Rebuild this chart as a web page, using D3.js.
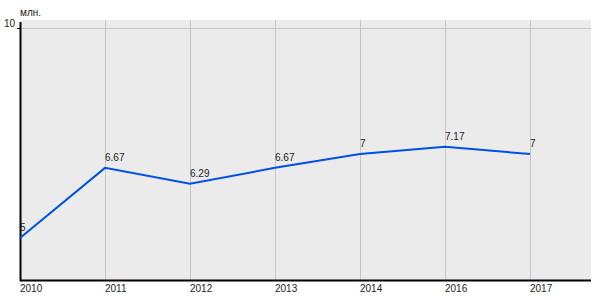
<!DOCTYPE html>
<html>
<head>
<meta charset="utf-8">
<script src="https://cdn.jsdelivr.net/npm/d3@7"></script>
<style>
  body { margin: 0; background: #fff; }
  text { font-family: "Liberation Sans", Arial, sans-serif; font-size: 10px; fill: #222; }
</style>
</head>
<body>
<div id="chart"></div>
<script>
// data
var years = ["2010", "2011", "2012", "2013", "2014", "2016", "2017"];
var values = [5, 6.67, 6.29, 6.67, 7, 7.17, 7];
var valueLabels = ["5", "6.67", "6.29", "6.67", "7", "7.17", "7"];
var yTicks = [10];
var unitLabel = "млн.";

var width = 600, height = 300;
var plotLeft = 20, plotRight = 591, plotTop = 20, plotBottom = 280;

var svg = d3.select("#chart").append("svg")
    .attr("width", width)
    .attr("height", height);

var x = d3.scalePoint()
    .domain(years)
    .range([plotLeft, 530]);

var y = d3.scaleLinear()
    .domain([4, 10])
    .range([plotBottom, 28]);

// plot background
svg.append("rect")
    .attr("x", plotLeft)
    .attr("y", plotTop)
    .attr("width", plotRight - plotLeft)
    .attr("height", plotBottom - plotTop)
    .attr("fill", "#ebebeb");

// vertical grid
svg.selectAll("line.vgrid")
    .data(years.slice(1))
    .enter().append("line")
    .attr("class", "vgrid")
    .attr("x1", d => x(d) + 0.5)
    .attr("x2", d => x(d) + 0.5)
    .attr("y1", plotTop)
    .attr("y2", plotBottom)
    .attr("stroke", "#c6c6c6")
    .attr("stroke-width", 1);

// horizontal grid
svg.selectAll("line.hgrid")
    .data(yTicks)
    .enter().append("line")
    .attr("class", "hgrid")
    .attr("x1", plotLeft)
    .attr("x2", plotRight)
    .attr("y1", d => Math.round(y(d)) + 0.5)
    .attr("y2", d => Math.round(y(d)) + 0.5)
    .attr("stroke", "#c6c6c6");

// y tick marks + labels
svg.selectAll("line.ytick")
    .data(yTicks)
    .enter().append("line")
    .attr("x1", plotLeft - 3)
    .attr("x2", plotLeft)
    .attr("y1", d => Math.round(y(d)) + 0.5)
    .attr("y2", d => Math.round(y(d)) + 0.5)
    .attr("stroke", "#000");

svg.selectAll("text.ylab")
    .data(yTicks)
    .enter().append("text")
    .attr("class", "ylab")
    .attr("x", plotLeft - 5)
    .attr("y", d => y(d) - 1)
    .attr("text-anchor", "end")
    .text(d => d);

svg.append("text")
    .attr("x", plotLeft)
    .attr("y", 16)
    .text(unitLabel);

// axes
svg.append("line")
    .attr("x1", plotLeft + 0.5).attr("x2", plotLeft + 0.5)
    .attr("y1", plotTop + 2).attr("y2", plotBottom + 1)
    .attr("stroke", "#000").attr("stroke-width", 2);

svg.append("line")
    .attr("x1", plotLeft).attr("x2", plotRight)
    .attr("y1", plotBottom + 0.5).attr("y2", plotBottom + 0.5)
    .attr("stroke", "#000").attr("stroke-width", 2);

// x labels
svg.selectAll("text.xlab")
    .data(years)
    .enter().append("text")
    .attr("class", "xlab")
    .attr("x", d => x(d))
    .attr("y", 292)
    .text(d => d);

// line
var line = d3.line()
    .x((d, i) => x(years[i]))
    .y(d => y(d));

svg.append("path")
    .datum(values)
    .attr("d", line)
    .attr("fill", "none")
    .attr("stroke", "#0050e6")
    .attr("stroke-width", 2);

// value labels
svg.selectAll("text.vlab")
    .data(values)
    .enter().append("text")
    .attr("class", "vlab")
    .attr("x", (d, i) => x(years[i]))
    .attr("y", d => y(d) - 7)
    .text((d, i) => valueLabels[i]);
</script>
</body>
</html>
